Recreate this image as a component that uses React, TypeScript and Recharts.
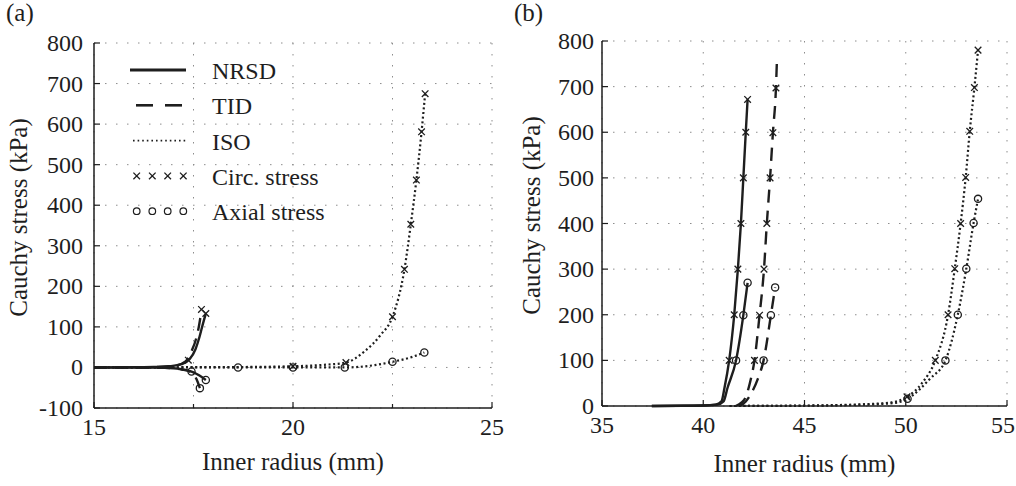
import React from "react";
import { CartesianGrid, Legend, Line, LineChart, XAxis, YAxis } from "recharts";

const INK = "#1e1e1e";
const GRID = "#8c8c8c";
const FONT = "'Liberation Serif', 'DejaVu Serif', serif";
const TXT = { fontFamily: FONT };

type Pt = { x: number; y: number };
const pts = (rows: number[][]): Pt[] => rows.map(([x, y]) => ({ x, y }));

// ---- panel (a) ----
const A_X_TICKS = [15, 17.5, 20, 22.5, 25];
const A_Y_TICKS = [-100, 0, 100, 200, 300, 400, 500, 600, 700, 800];

const A_NRSD_CIRC = pts([[15, 0], [16, 0.5], [16.5, 1], [16.9, 3], [17.2, 8], [17.4, 20], [17.55, 45], [17.65, 75], [17.73, 105], [17.81, 133]]);
const A_NRSD_AXIAL = pts([[15, 0], [16.5, -0.5], [17, -2], [17.3, -6], [17.5, -12], [17.65, -20], [17.81, -31]]);
const A_TID_CIRC = pts([[15, 0], [16.5, 1], [17, 4], [17.3, 15], [17.45, 40], [17.58, 76], [17.66, 115], [17.7, 143]]);
const A_TID_AXIAL = pts([[15, 0], [16.8, -1], [17.2, -5], [17.45, -12], [17.58, -30], [17.66, -51]]);
const A_ISO_CIRC = pts([[15, 0], [17, 0.5], [18.6, 1], [20, 3], [20.7, 6], [21.33, 12], [21.8, 40], [22.2, 80], [22.5, 125], [22.8, 242], [22.96, 353], [23.1, 462], [23.23, 581], [23.32, 675]]);
const A_ISO_AXIAL = pts([[15, 0], [18.62, 0], [20, 0], [21.3, 0], [22, 5], [22.5, 14], [23, 26], [23.3, 37]]);

const A_CIRC_MARKS = pts([[17.37, 18], [17.81, 133], [17.7, 143], [20, 3], [21.33, 12], [22.5, 125], [22.8, 242], [22.96, 353], [23.1, 462], [23.23, 581], [23.32, 675]]);
const A_AXIAL_MARKS = pts([[17.45, -10], [17.81, -31], [17.66, -51], [18.62, 0], [20, 0], [21.3, 0], [22.5, 14], [23.3, 37]]);

// ---- panel (b) ----
const B_X_TICKS = [35, 40, 45, 50, 55];
const B_Y_TICKS = [0, 100, 200, 300, 400, 500, 600, 700, 800];

const B_NRSD_CIRC = pts([[37.46, 0], [39, 0.5], [40, 1], [40.6, 3], [40.9, 10], [41.05, 40], [41.28, 100], [41.53, 200], [41.71, 300], [41.86, 400], [41.98, 500], [42.1, 600], [42.19, 672]]);
const B_NRSD_AXIAL = pts([[37.46, 0], [40, 1], [40.7, 3], [41.0, 10], [41.2, 40], [41.62, 100], [41.98, 199], [42.19, 270]]);
const B_TID_CIRC = pts([[41.6, 0], [41.9, 8], [42.1, 20], [42.3, 50], [42.53, 100], [42.78, 199], [43.0, 300], [43.14, 400], [43.3, 500], [43.44, 599], [43.59, 697], [43.64, 760]]);
const B_TID_AXIAL = pts([[41.8, 0], [42.1, 10], [42.4, 30], [42.7, 60], [42.98, 100], [43.34, 199], [43.55, 260]]);
const B_ISO_CIRC = pts([[41.3, 0], [45, 1], [48, 4], [49.3, 8], [50.06, 20], [50.8, 50], [51.46, 100], [52.09, 200], [52.42, 301], [52.71, 400], [52.96, 501], [53.16, 602], [53.39, 698], [53.57, 780]]);
const B_ISO_AXIAL = pts([[41.3, 0], [45, 0.5], [48, 3], [49.5, 7], [50.09, 16], [51.2, 60], [51.96, 100], [52.57, 200], [52.99, 301], [53.35, 401], [53.57, 454]]);

const B_CIRC_MARKS = pts([[41.28, 100], [41.53, 200], [41.71, 300], [41.86, 400], [41.98, 500], [42.1, 600], [42.19, 672], [42.53, 100], [42.78, 199], [43.0, 300], [43.14, 400], [43.3, 500], [43.44, 599], [43.59, 697], [50.06, 20], [51.46, 100], [52.09, 200], [52.42, 301], [52.71, 400], [52.96, 501], [53.16, 602], [53.39, 698], [53.57, 780]]);
const B_AXIAL_MARKS = pts([[41.62, 100], [41.98, 199], [42.19, 270], [42.98, 100], [43.34, 199], [43.55, 260], [50.09, 16], [51.96, 100], [52.57, 200], [52.99, 301], [53.35, 401], [53.57, 454]]);

const LEGEND_LABELS = ["NRSD", "TID", "ISO", "Circ. stress", "Axial stress"];

type Style = "solid" | "dash" | "dot";
const STROKE: Record<Style, { w: number; dash?: string }> = {
  solid: { w: 2.4 },
  dash: { w: 2.4, dash: "13 8" },
  dot: { w: 2.2, dash: "2 2.6" },
};

const Cross = (p: any) => {
  const { cx, cy } = p;
  if (cx == null || cy == null) return <g />;
  const s = 3.3;
  return (
    <path
      d={`M${cx - s},${cy - s}L${cx + s},${cy + s}M${cx - s},${cy + s}L${cx + s},${cy - s}`}
      stroke={INK}
      strokeWidth={1.3}
      fill="none"
    />
  );
};

const Ring = (p: any) => {
  const { cx, cy } = p;
  if (cx == null || cy == null) return <g />;
  return <circle cx={cx} cy={cy} r={3.6} stroke={INK} strokeWidth={1.3} fill="none" />;
};

// inward tick marks; labels only on whole numbers. lastShift nudges the final label so it stays on the page
const makeXTick = (lastShift: number) => (props: any) => {
  const { x, y, payload, index, visibleTicksCount } = props;
  const v = payload.value as number;
  const major = Number.isInteger(v);
  const dx = index === visibleTicksCount - 1 ? lastShift : 0;
  return (
    <g>
      <line x1={x} y1={y} x2={x} y2={y - (major ? 6 : 4)} stroke={INK} strokeWidth={1.2} />
      {major && (
        <text x={x + dx} y={y + 27} textAnchor="middle" fontSize={24} style={TXT} fill={INK}>
          {v}
        </text>
      )}
    </g>
  );
};

const makeYTick = (gap: number) => (props: any) => {
  const { x, y, payload } = props;
  return (
    <g>
      <line x1={x} y1={y} x2={x + 6} y2={y} stroke={INK} strokeWidth={1.2} />
      <text x={x - gap} y={y + 8} textAnchor="end" fontSize={24} style={TXT} fill={INK}>
        {payload.value}
      </text>
    </g>
  );
};

function LegendBox() {
  const rowY = (i: number) => 20 + i * 35.3;
  return (
    <svg width={260} height={180} style={{ display: "block" }}>
      <line x1={10} x2={66} y1={rowY(0)} y2={rowY(0)} stroke={INK} strokeWidth={3} />
      <line x1={16} x2={33} y1={rowY(1)} y2={rowY(1)} stroke={INK} strokeWidth={2.6} />
      <line x1={45} x2={62} y1={rowY(1)} y2={rowY(1)} stroke={INK} strokeWidth={2.6} />
      <line x1={13} x2={67} y1={rowY(2)} y2={rowY(2)} stroke={INK} strokeWidth={1.6} strokeDasharray="1.6 3" />
      {[16.7, 32.3, 47.7, 63.3].map((cx) => (
        <g key={`c${cx}`}>
          <Cross cx={cx} cy={rowY(3)} />
          <circle cx={cx} cy={rowY(4)} r={3.3} stroke={INK} strokeWidth={1.2} fill="none" />
        </g>
      ))}
      {LEGEND_LABELS.map((t, i) => (
        <text key={t} x={92} y={rowY(i) + 9} fontSize={24} style={TXT} fill={INK}>
          {t}
        </text>
      ))}
    </svg>
  );
}

type Curve = { data: Pt[]; style: Style };

function Panel({
  curves,
  circ,
  axial,
  xTicks,
  yTicks,
  margin,
  width,
  tickGap,
  lastShift,
  yLabelX,
  xLabelY,
  legend,
}: {
  curves: Curve[];
  circ: Pt[];
  axial: Pt[];
  xTicks: number[];
  yTicks: number[];
  margin: { top: number; right: number; bottom: number; left: number };
  width: number;
  tickGap: number;
  lastShift: number;
  yLabelX: number;
  xLabelY: number;
  legend?: boolean;
}) {
  return (
    <LineChart width={width} height={486} margin={margin}>
      <CartesianGrid stroke={GRID} strokeDasharray="1.5 9.5" vertical horizontal />
      <XAxis
        type="number"
        dataKey="x"
        domain={[xTicks[0], xTicks[xTicks.length - 1]]}
        ticks={xTicks}
        interval={0}
        height={30}
        tickSize={0}
        tickMargin={0}
        tickLine={false}
        tick={makeXTick(lastShift)}
        axisLine={{ stroke: INK, strokeWidth: 1.5 }}
        label={{
          content: (p: any) => {
            const vb = p.viewBox;
            return (
              <text x={vb.x + vb.width / 2} y={xLabelY} textAnchor="middle" fontSize={25} style={TXT} fill={INK}>
                Inner radius (mm)
              </text>
            );
          },
        }}
      />
      <YAxis
        type="number"
        dataKey="y"
        domain={[yTicks[0], yTicks[yTicks.length - 1]]}
        ticks={yTicks}
        interval={0}
        width={60}
        tickSize={0}
        tickMargin={0}
        tickLine={false}
        tick={makeYTick(tickGap)}
        axisLine={{ stroke: INK, strokeWidth: 1.5 }}
        label={{
          content: (p: any) => {
            const vb = p.viewBox;
            const cy = vb.y + vb.height / 2 - 8;
            return (
              <text
                x={yLabelX}
                y={cy}
                transform={`rotate(-90 ${yLabelX} ${cy})`}
                textAnchor="middle"
                fontSize={25}
                style={TXT}
                fill={INK}
              >
                Cauchy stress (kPa)
              </text>
            );
          },
        }}
      />
      {curves.map((c, i) => (
        <Line
          key={`curve${i}`}
          data={c.data}
          dataKey="y"
          type="monotone"
          stroke={INK}
          strokeWidth={STROKE[c.style].w}
          strokeDasharray={STROKE[c.style].dash}
          dot={false}
          activeDot={false}
          isAnimationActive={false}
          legendType="none"
        />
      ))}
      <Line
        data={circ}
        dataKey="y"
        stroke="none"
        dot={Cross}
        activeDot={false}
        isAnimationActive={false}
        legendType="none"
      />
      <Line
        data={axial}
        dataKey="y"
        stroke="none"
        dot={Ring}
        activeDot={false}
        isAnimationActive={false}
        legendType="none"
      />
      {legend && (
        <Legend
          layout="vertical"
          align="center"
          verticalAlign="middle"
          content={() => <LegendBox />}
          wrapperStyle={{ left: 120, top: 50, width: 260, height: 180 }}
        />
      )}
    </LineChart>
  );
}

export default function App() {
  return (
    <div style={{ position: "absolute", left: 0, top: 0, width: 1016, height: 486, background: "#fff", fontFamily: FONT }}>
      <svg width={1016} height={30} style={{ position: "absolute", left: 0, top: 0 }}>
        <text x={6} y={21} fontSize={25} style={TXT} fill={INK}>(a)</text>
        <text x={514} y={21} fontSize={25} style={TXT} fill={INK}>(b)</text>
      </svg>
      <div style={{ position: "absolute", left: 0, top: 0 }}>
        <Panel
          width={508}
          margin={{ top: 43, right: 16, bottom: 48, left: 34 }}
          curves={[
            { data: A_NRSD_CIRC, style: "solid" },
            { data: A_NRSD_AXIAL, style: "solid" },
            { data: A_TID_CIRC, style: "dash" },
            { data: A_TID_AXIAL, style: "dash" },
            { data: A_ISO_CIRC, style: "dot" },
            { data: A_ISO_AXIAL, style: "dot" },
          ]}
          circ={A_CIRC_MARKS}
          axial={A_AXIAL_MARKS}
          xTicks={A_X_TICKS}
          yTicks={A_Y_TICKS}
          tickGap={11}
          lastShift={0}
          yLabelX={27}
          xLabelY={470}
          legend
        />
      </div>
      <div style={{ position: "absolute", left: 508, top: 0 }}>
        <Panel
          width={508}
          margin={{ top: 41, right: 9, bottom: 50, left: 34 }}
          curves={[
            { data: B_NRSD_CIRC, style: "solid" },
            { data: B_NRSD_AXIAL, style: "solid" },
            { data: B_TID_CIRC, style: "dash" },
            { data: B_TID_AXIAL, style: "dash" },
            { data: B_ISO_CIRC, style: "dot" },
            { data: B_ISO_AXIAL, style: "dot" },
          ]}
          circ={B_CIRC_MARKS}
          axial={B_AXIAL_MARKS}
          xTicks={B_X_TICKS}
          yTicks={B_Y_TICKS}
          tickGap={8}
          lastShift={-4}
          yLabelX={32}
          xLabelY={472}
        />
      </div>
    </div>
  );
}
